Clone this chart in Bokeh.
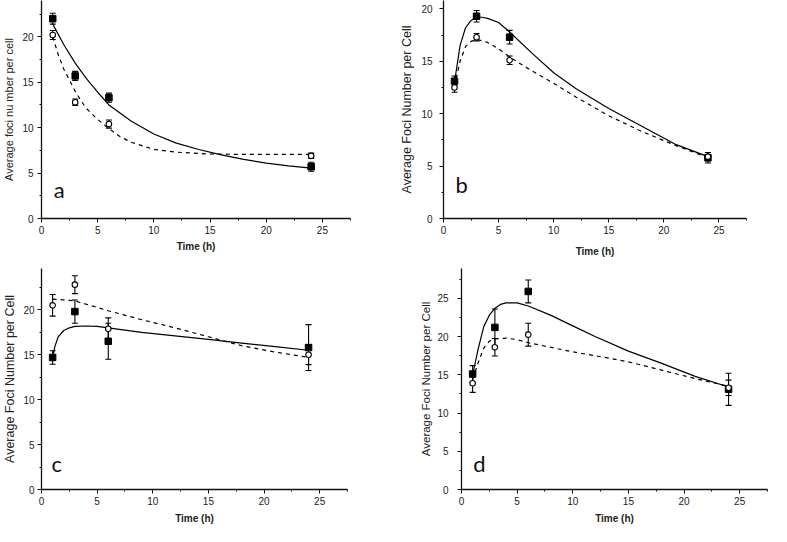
from bokeh.plotting import figure
from bokeh.models import (ColumnDataSource, Whisker, TeeHead, Range1d,
                          SingleIntervalTicker, Label)
from bokeh.layouts import column, row
from bokeh.embed import file_html
from bokeh.resources import INLINE

# ---------------- data ----------------
time_h = [1, 3, 6, 24]

# panel a
a_filled = [22.0, 15.7, 13.3, 5.7]
a_filled_err = [0.6, 0.5, 0.5, 0.5]
a_open = [20.2, 12.8, 10.4, 6.9]
a_open_err = [0.5, 0.35, 0.45, 0.3]
a_solid_t = [1, 2, 3, 4, 5, 6, 8, 10, 12, 14, 16, 18, 20, 22, 24]
a_solid_y = [21.4, 19.1, 17.1, 15.4, 13.9, 12.5, 10.7, 9.3, 8.3, 7.6, 7.0, 6.5, 6.1, 5.8, 5.55]
a_dash_t = [1, 1.5, 2, 2.5, 3, 3.5, 4, 5, 6, 7, 8, 10, 12, 15, 18, 21, 24]
a_dash_y = [20.0, 18.0, 16.4, 15.2, 14.0, 13.0, 12.1, 10.9, 9.9, 9.0, 8.4, 7.6, 7.3, 7.1, 7.05, 7.05, 7.05]

# panel b
b_filled = [13.1, 19.3, 17.3, 5.8]
b_filled_err = [0.5, 0.55, 0.65, 0.5]
b_open = [12.5, 17.3, 15.1, 5.9]
b_open_err = [0.45, 0.35, 0.4, 0.4]
b_solid_t = [1, 1.5, 2, 2.5, 3, 3.5, 4, 5, 6, 8, 10, 12, 15, 18, 21, 24]
b_solid_y = [13.0, 16.5, 18.2, 18.9, 19.2, 19.2, 19.1, 18.7, 17.8, 15.8, 13.9, 12.4, 10.5, 8.8, 7.1, 5.9]
b_dash_t = [1, 1.5, 2, 2.5, 3, 4, 5, 6, 8, 10, 12, 15, 18, 21, 24]
b_dash_y = [12.6, 15.0, 16.4, 16.9, 17.1, 16.8, 16.2, 15.4, 14.1, 12.9, 11.6, 9.8, 8.3, 7.0, 5.8]

# panel c
c_filled = [14.7, 19.8, 16.5, 15.8]
c_filled_err = [0.75, 1.3, 2.0, 2.55]
c_open = [20.5, 22.8, 17.9, 15.0]
c_open_err = [1.2, 1.0, 1.2, 1.1]
c_solid_t = [1, 1.2, 1.5, 2, 2.5, 3, 4, 5, 6, 9, 12, 15, 18, 21, 24]
c_solid_y = [14.7, 15.9, 17.0, 17.7, 18.0, 18.15, 18.2, 18.15, 18.0, 17.5, 17.1, 16.7, 16.3, 15.9, 15.5]
c_dash_t = [1, 2, 3, 6, 9, 12, 15, 18, 21, 24]
c_dash_y = [21.2, 21.1, 21.0, 19.9, 18.9, 18.0, 17.0, 16.0, 15.3, 14.7]

# panel d
d_filled = [15.1, 21.2, 25.9, 13.1]
d_filled_err = [1.1, 2.4, 1.5, 2.1]
d_open = [13.9, 18.6, 20.25, 13.3]
d_open_err = [1.2, 1.15, 1.5, 1.0]
d_solid_t = [1, 1.5, 2, 2.5, 3, 3.5, 4, 5, 6, 8, 10, 12, 15, 18, 21, 24]
d_solid_y = [15.0, 18.4, 21.3, 22.8, 23.7, 24.2, 24.4, 24.4, 24.0, 22.8, 21.4, 20.0, 18.1, 16.5, 14.8, 13.4]
d_dash_t = [1, 1.5, 2, 2.5, 3, 4, 5, 6, 8, 10, 12, 15, 18, 21, 24]
d_dash_y = [14.4, 16.6, 18.5, 19.4, 19.7, 19.8, 19.6, 19.2, 18.6, 18.0, 17.5, 16.7, 15.6, 14.5, 13.5]

x_label = "Time (h)"
y_label_a = "Average foci nu mber per cell"
y_label_bcd = "Average Foci Number per Cell"

TICK_FONT = "Liberation Sans"


def make_panel(letter, ylab, ymax, filled, ferr, opn, oerr, st, sy, dt, dy,
               width, height, bl, br, bt, bb, ylab_std, ytick_std,
               xlab_std, letter_xy, ylab_size):
    p = figure(width=width, height=height, output_backend="svg",
               toolbar_location=None, x_range=Range1d(0, 27.5),
               y_range=Range1d(0, ymax), min_border_left=bl,
               min_border_right=br, min_border_top=bt, min_border_bottom=bb)
    p.outline_line_color = None
    p.xgrid.visible = False
    p.ygrid.visible = False
    p.background_fill_color = "white"
    p.border_fill_color = "white"

    for ax in (p.xaxis[0], p.yaxis[0]):
        ax.ticker = SingleIntervalTicker(interval=5, num_minor_ticks=2)
        ax.axis_line_color = "#111111"
        ax.axis_line_width = 1.3
        ax.major_tick_line_color = "#111111"
        ax.minor_tick_line_color = "#111111"
        ax.major_tick_in = 0
        ax.major_tick_out = 4
        ax.minor_tick_in = 0
        ax.minor_tick_out = 2
        ax.major_label_text_font = TICK_FONT
        ax.major_label_text_font_size = "10px"
        ax.major_label_text_color = "#222222"
        ax.axis_label_text_font = TICK_FONT
        ax.axis_label_text_color = "#222222"

    p.xaxis.axis_label = x_label
    p.xaxis.axis_label_text_font_size = "10px"
    p.xaxis.axis_label_text_font_style = "bold"
    p.yaxis.axis_label = ylab
    p.yaxis.axis_label_text_font_size = ylab_size
    p.yaxis.axis_label_text_font_style = "normal"
    p.xaxis.major_label_standoff = 3
    p.xaxis.axis_label_standoff = xlab_std
    p.yaxis.major_label_standoff = ytick_std
    p.yaxis.axis_label_standoff = ylab_std

    # fitted curves
    p.line(st, sy, line_color="black", line_width=1.2)
    p.line(dt, dy, line_color="black", line_width=1.2, line_dash="4 4")

    # error bars
    fsrc = ColumnDataSource(dict(x=time_h, y=filled,
                                 lo=[v - e for v, e in zip(filled, ferr)],
                                 hi=[v + e for v, e in zip(filled, ferr)]))
    osrc = ColumnDataSource(dict(x=time_h, y=opn,
                                 lo=[v - e for v, e in zip(opn, oerr)],
                                 hi=[v + e for v, e in zip(opn, oerr)]))
    for src in (fsrc, osrc):
        w = Whisker(source=src, base="x", lower="lo", upper="hi",
                    line_color="black", line_width=1.1,
                    upper_head=TeeHead(size=6, line_color="black", line_width=1.1),
                    lower_head=TeeHead(size=6, line_color="black", line_width=1.1))
        p.add_layout(w)

    p.scatter("x", "y", source=fsrc, marker="square", size=6.5,
              fill_color="black", line_color="black")
    p.scatter("x", "y", source=osrc, marker="circle", size=5.5,
              fill_color="white", line_color="black", line_width=1.1)

    p.add_layout(Label(x=letter_xy[0], y=letter_xy[1], text=letter,
                       text_font="Lato", text_font_size="22px",
                       text_color="#111111"))
    return p


pa = make_panel("a", y_label_a, 24, a_filled, a_filled_err, a_open, a_open_err,
                a_solid_t, a_solid_y, a_dash_t, a_dash_y,
                width=392, height=268, bl=36, br=42, bt=0, bb=34,
                ylab_std=4, ytick_std=4, xlab_std=4, letter_xy=(1.1, 1.7),
                ylab_size="11px")
pb = make_panel("b", y_label_bcd, 20.8, b_filled, b_filled_err, b_open, b_open_err,
                b_solid_t, b_solid_y, b_dash_t, b_dash_y,
                width=379, height=268, bl=51, br=25, bt=0, bb=50,
                ylab_std=4, ytick_std=7, xlab_std=9, letter_xy=(1.1, 2.0),
                ylab_size="12.5px")
pc = make_panel("c", y_label_bcd, 24.6, c_filled, c_filled_err, c_open, c_open_err,
                c_solid_t, c_solid_y, c_dash_t, c_dash_y,
                width=412, height=258, bl=36, br=65, bt=0, bb=34,
                ylab_std=3, ytick_std=3, xlab_std=5, letter_xy=(0.9, 1.4),
                ylab_size="12.5px")
pd_ = make_panel("d", y_label_bcd, 28.9, d_filled, d_filled_err, d_open, d_open_err,
                 d_solid_t, d_solid_y, d_dash_t, d_dash_y,
                 width=359, height=258, bl=49, br=4, bt=0, bb=34,
                 ylab_std=2, ytick_std=9, xlab_std=5, letter_xy=(1.05, 1.6),
                 ylab_size="11.5px")

layout = column(row(pa, pb), row(pc, pd_))

open("out.html", "w").write(file_html(layout, INLINE))
